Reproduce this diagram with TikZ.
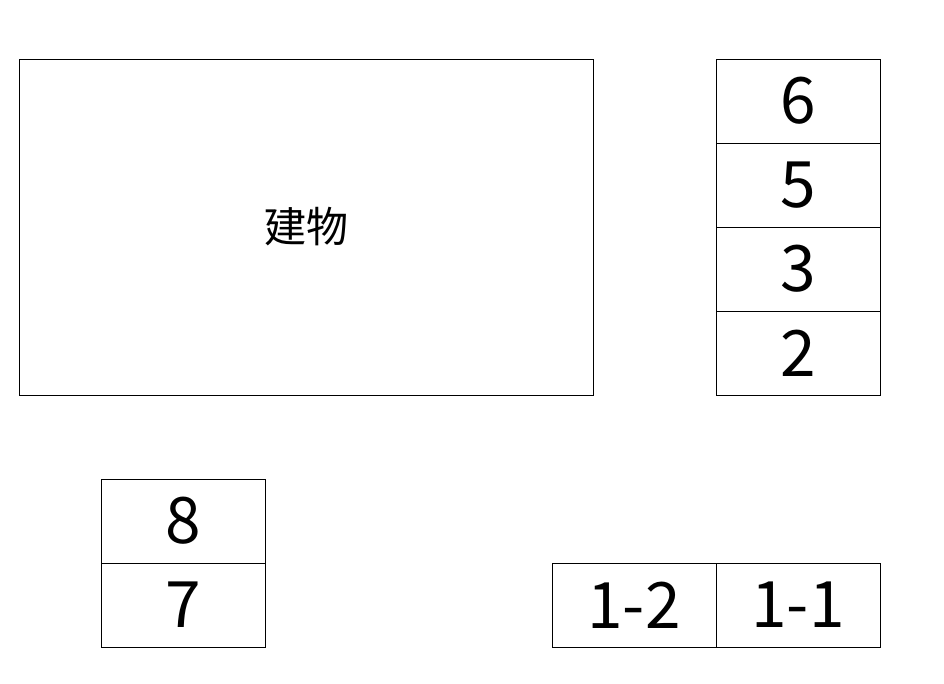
\documentclass[tikz,border=0pt]{standalone}
\usepackage{fontspec}
\newfontfamily\jpfont{Noto Sans CJK JP}
\usetikzlibrary{positioning}
\begin{document}
\begin{tikzpicture}[
    x=1pt,
    y=-1pt,
    lot/.style={draw, line width=0.9pt, inner sep=0pt, outer sep=0pt},
    stall/.style={lot, minimum width=164pt, minimum height=84pt,
      font=\jpfont\fontsize{64}{64}\selectfont},
  ]
  \useasboundingbox (0,0) rectangle (944,683);

  % building
  \node[lot, minimum width=574pt, minimum height=336pt,
    font=\jpfont\fontsize{42}{42}\selectfont] (building) at (306,227) {建物};

  % right column
  \node[stall] (s6) at (798,101) {6};
  \node[stall, below=0pt of s6] (s5) {5};
  \node[stall, below=0pt of s5] (s3) {3};
  \node[stall, below=0pt of s3] (s2) {2};

  % left bottom
  \node[stall] (s8) at (183,521) {8};
  \node[stall, below=0pt of s8] (s7) {7};

  % right bottom
  \node[stall] (s11) at (798,605) {1-1};
  \node[stall, left=0pt of s11] (s12) {1-2};
\end{tikzpicture}
\end{document}
